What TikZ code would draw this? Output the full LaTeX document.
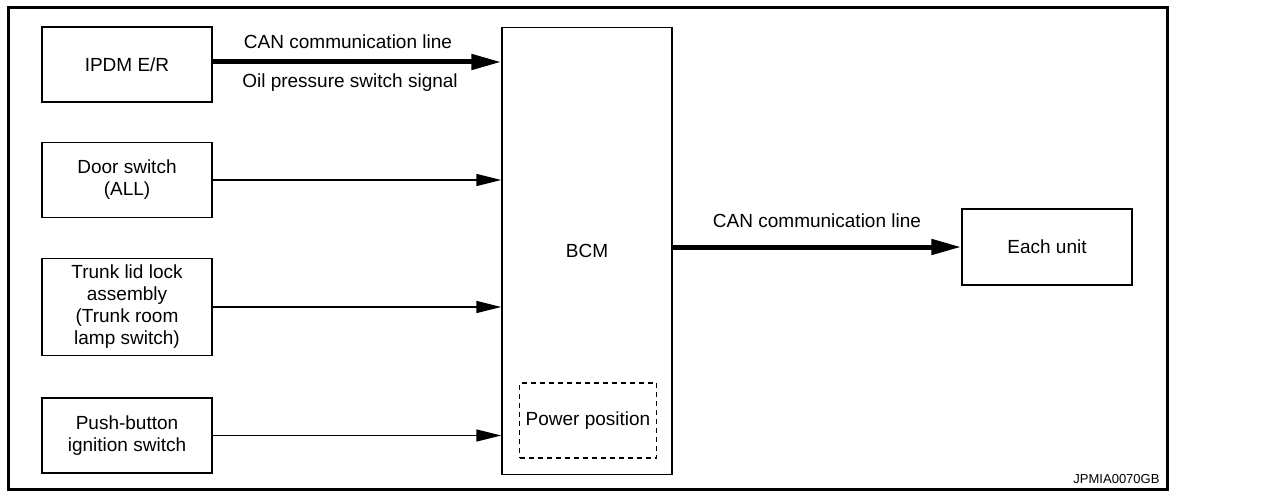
\documentclass[tikz,border=0pt]{standalone}
\usepackage{fontspec}
\setmainfont{Liberation Sans}
\usetikzlibrary{positioning,arrows.meta}

\begin{document}
\begin{tikzpicture}[x=1pt,y=-1pt,
  unit/.style={draw,line width=1.4pt,minimum width=170pt,minimum height=75pt,
    inner sep=0pt,align=center,font=\fontsize{19}{22}\selectfont},
  sig/.style={line width=1.4pt,-{Triangle[length=25pt,width=12pt]}},
  can/.style={line width=5pt,-{Triangle[length=30pt,width=15pt]}},
  lbl/.style={font=\fontsize{19}{22}\selectfont}]
\useasboundingbox (0,0) rectangle (1278,495);
\draw[line width=3pt] (8,8) rectangle (1167,489);

\node[unit] (ipdm) at (127,64.5) {IPDM E/R};
\node[unit] (door) at (127,180) {Door switch\\(ALL)};
\node[unit,minimum height=97pt] (trunk) at (127,307) {Trunk lid lock\\assembly\\(Trunk room\\lamp switch)};
\node[unit] (push) at (127,435.5) {Push-button\\ignition switch};
\node[unit,minimum height=447pt] (bcm) at (587,251) {BCM};
\node[unit,dashed,dash pattern=on 5pt off 4pt,minimum width=137pt] (pwr) at (588,420.5) {Power position};
\node[unit,minimum height=76pt] (each) at (1047,247) {Each unit};

%\draw (0,0) grid (1278,495);
\draw[can] (ipdm.east |- 0,62) -- (bcm.west |- 0,62);
\foreach \n in {door,trunk,push}{\draw[sig] (\n.east) -- (\n.east -| bcm.west);}
\draw[can] (bcm.east |- each.west) -- (each.west);

\node[lbl] (cana) at (348,42) {CAN communication line};
\node[lbl] (oil) at (350,83) {Oil pressure switch signal};
\node[lbl] (canb) at (817,221) {CAN communication line};
\node[anchor=east,font=\fontsize{13}{15}\selectfont] (code) at (1163,479) {JPMIA0070GB};
\end{tikzpicture}
\end{document}
